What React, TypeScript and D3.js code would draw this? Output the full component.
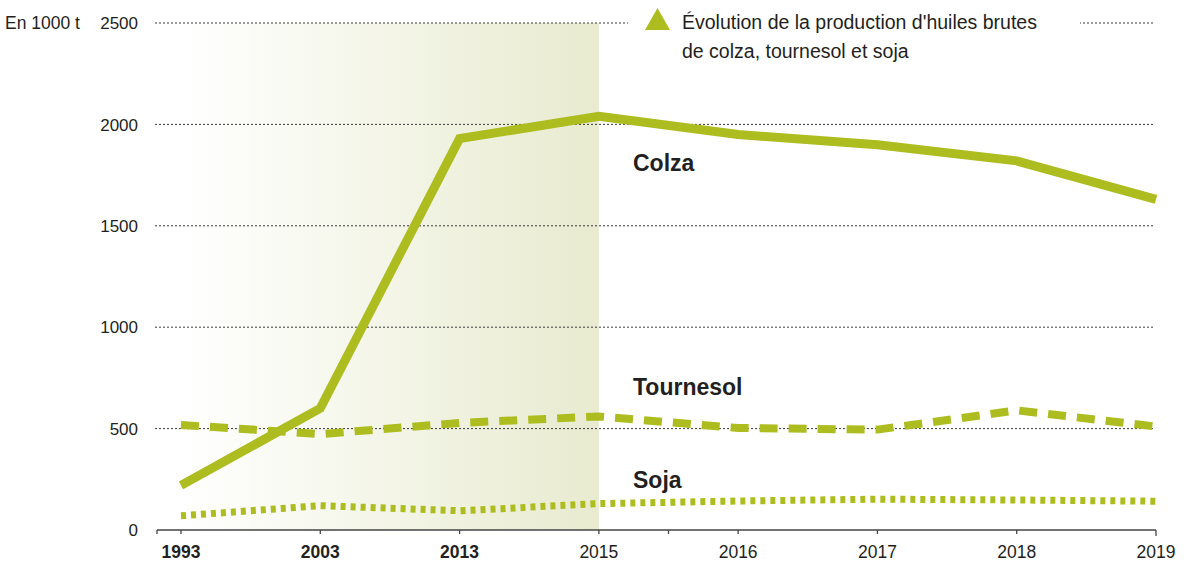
import React, { useEffect, useRef } from 'react';
import * as d3 from 'd3';

const years = ['1993', '2003', '2013', '2015', '2016', '2017', '2018', '2019'];
const boldYears = ['1993', '2003', '2013'];
const colza = [220, 600, 1930, 2040, 1950, 1900, 1820, 1630];
const tournesol = [518, 473, 528, 560, 503, 495, 590, 510];
const soja = [70, 120, 95, 130, 143, 152, 148, 142];
const yTicks = [0, 500, 1000, 1500, 2000, 2500];
const legendLines = ["Évolution de la production d'huiles brutes", 'de colza, tournesol et soja'];

const GREEN = '#adbc1f';
const TEXT = '#231f20';
const FONT = '"Liberation Sans", Arial, sans-serif';

const App = () => {
  const svgRef = useRef<SVGSVGElement>(null);
  const width = 1184;
  const height = 572;

  useEffect(() => {
    const svg = d3.select(svgRef.current);
    svg.selectAll('*').remove();
    svg.attr('width', width).attr('height', height).style('font-family', FONT);

    const x = d3.scalePoint<string>().domain(years).range([181, 1156]);
    const y = d3.scaleLinear().domain([0, 2500]).range([530, 23]);

    // fond dégradé jusqu'à 2015
    const defs = svg.append('defs');
    const grad = defs.append('linearGradient').attr('id', 'shade').attr('x1', 0).attr('x2', 1).attr('y1', 0).attr('y2', 0);
    grad.append('stop').attr('offset', 0).attr('stop-color', '#ffffff');
    grad.append('stop').attr('offset', 1).attr('stop-color', '#e8ebcf');
    svg.append('rect')
      .attr('x', x('1993')!)
      .attr('y', y(2500))
      .attr('width', x('2015')! - x('1993')!)
      .attr('height', y(0) - y(2500))
      .attr('fill', 'url(#shade)');

    // grille
    svg.append('g')
      .selectAll('line')
      .data(yTicks.filter(d => d > 0))
      .join('line')
      .attr('x1', 155)
      .attr('x2', 1153)
      .attr('y1', d => y(d))
      .attr('y2', d => y(d))
      .attr('stroke', '#3a3a3a')
      .attr('stroke-width', 1)
      .attr('stroke-dasharray', '2,2');

    // étiquettes y
    svg.append('g')
      .selectAll('text')
      .data(yTicks)
      .join('text')
      .attr('x', 138)
      .attr('y', d => y(d))
      .attr('dy', '0.36em')
      .attr('text-anchor', 'end')
      .attr('font-size', 17)
      .attr('fill', TEXT)
      .text(d => d);

    svg.append('text')
      .attr('x', 5)
      .attr('y', y(2500))
      .attr('dy', '0.36em')
      .attr('font-size', 17.5)
      .attr('fill', TEXT)
      .text('En 1000 t');

    // axe x
    const axis = svg.append('g').attr('transform', `translate(0,${y(0)})`);
    axis.append('line')
      .attr('x1', 157).attr('x2', x('2019')!)
      .attr('stroke', '#444').attr('stroke-width', 1.3);
    const tickPos = [157, ...years.map(d => x(d)!), (x('2015')! + x('2016')!) / 2];
    axis.selectAll('line.tick')
      .data(tickPos)
      .join('line')
      .attr('class', 'tick')
      .attr('x1', d => d).attr('x2', d => d)
      .attr('y1', 0).attr('y2', (d, i) => (i === 8 ? 6 : 4))
      .attr('stroke', '#444').attr('stroke-width', 1.3);
    axis.selectAll('text')
      .data(years)
      .join('text')
      .attr('x', d => x(d)!)
      .attr('y', 28)
      .attr('text-anchor', 'middle')
      .attr('font-size', 17.5)
      .attr('font-weight', d => (boldYears.includes(d) ? 'bold' : 'normal'))
      .attr('fill', TEXT)
      .text(d => d);

    // légende
    svg.append('rect').attr('x', 628).attr('y', 10).attr('width', 452).attr('height', 26).attr('fill', '#fff');
    svg.append('path').attr('d', 'M645,30 L657.5,8 L670,30 Z').attr('fill', GREEN);
    svg.append('g')
      .selectAll('text')
      .data(legendLines)
      .join('text')
      .attr('x', 682)
      .attr('y', (d, i) => 29 + i * 29)
      .attr('font-size', 19.5)
      .attr('fill', TEXT)
      .text(d => d);

    // courbes
    const line = d3.line<number>()
      .x((d, i) => x(years[i])!)
      .y(d => y(d));

    const series = [
      { name: 'Soja', values: soja, width: 7, dash: '5,5', labelY: 480 },
      { name: 'Tournesol', values: tournesol, width: 8, dash: '18,11', labelY: 387 },
      { name: 'Colza', values: colza, width: 9, dash: null, labelY: 163 }
    ];

    series.forEach(s => {
      svg.append('path')
        .datum(s.values)
        .attr('fill', 'none')
        .attr('stroke', GREEN)
        .attr('stroke-width', s.width)
        .attr('stroke-dasharray', s.dash)
        .attr('d', line);

      svg.append('text')
        .attr('x', 633)
        .attr('y', s.labelY)
        .attr('dy', '0.36em')
        .attr('font-size', 23)
        .attr('font-weight', 'bold')
        .attr('fill', TEXT)
        .text(s.name);
    });
  }, []);

  return (
    <div style={{ position: 'absolute', left: 0, top: 0 }}>
      <svg ref={svgRef} style={{ display: 'block' }} />
    </div>
  );
};

export default App;
